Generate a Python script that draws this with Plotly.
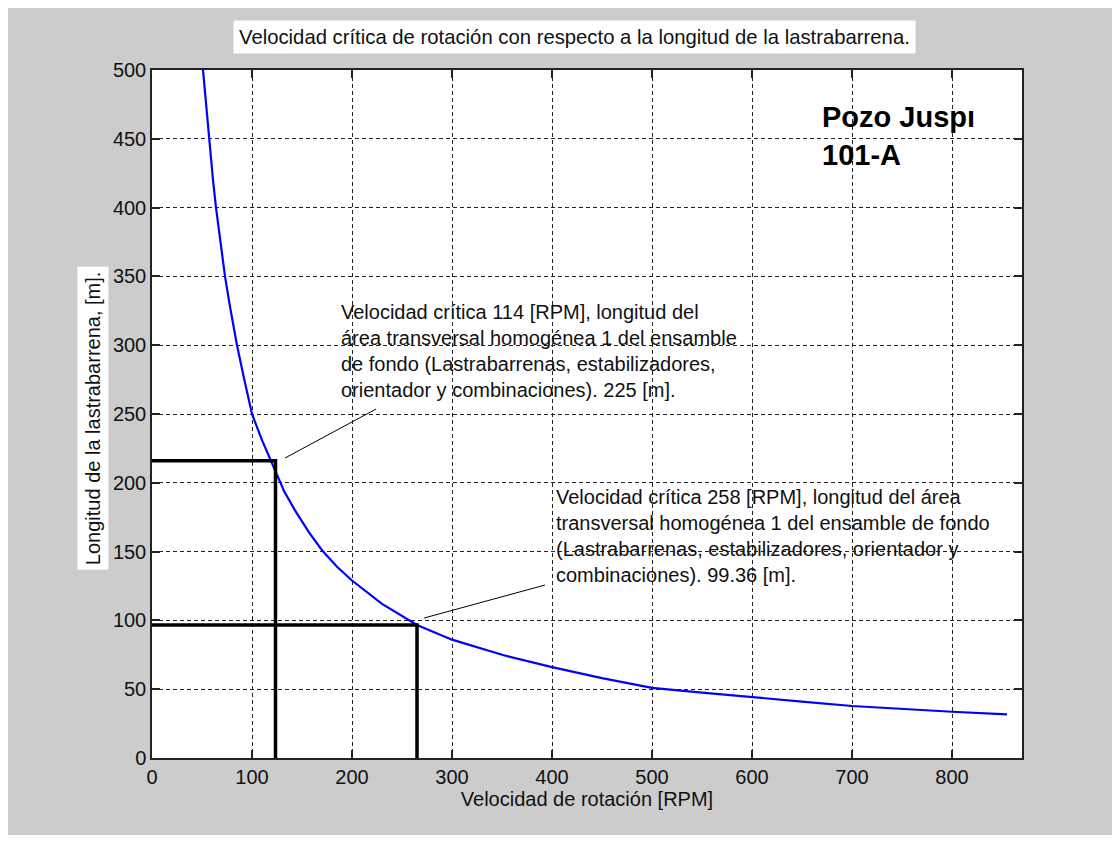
import plotly.graph_objects as go

# Curve
rpm = [51, 54, 57, 61, 64, 68, 73, 78, 85, 92, 100, 110, 120, 132, 143, 157, 170,
       185, 200, 230, 265, 300, 350, 400, 450, 500, 550, 600, 650, 700, 750, 800, 855]
length_m = [500, 475, 450, 420, 400, 377, 350, 328, 300, 276, 250, 231, 214, 194,
            180, 164, 151, 139, 129, 112, 96.7, 86, 75, 66, 58, 51, 47.5, 44, 41,
            37.8, 35.5, 33.6, 31.7]

# Marker lines (critical points)
crit1_x = [0, 123.5, 123.5]
crit1_y = [216, 216, 0]
crit2_x = [0, 265, 265]
crit2_y = [96.7, 96.7, 0]

# Leader lines for the annotations
lead1_x = [133, 224]
lead1_y = [218, 253.6]
lead2_x = [272, 393]
lead2_y = [101.7, 125.7]

x_ticks = [0, 100, 200, 300, 400, 500, 600, 700, 800]
y_ticks = [0, 50, 100, 150, 200, 250, 300, 350, 400, 450, 500]

title_text = "Velocidad crítica de rotación con respecto a la longitud de la lastrabarrena."
xlabel = "Velocidad de rotación [RPM]"
ylabel = "Longitud de la lastrabarrena, [m]."
note1 = ("Velocidad crítica 114 [RPM], longitud del<br>área transversal homogénea 1 del ensamble<br>"
         "de fondo (Lastrabarrenas, estabilizadores,<br>orientador y combinaciones). 225 [m].")
note2 = ("Velocidad crítica 258 [RPM], longitud del área<br>transversal homogénea 1 del ensamble de fondo<br>"
         "(Lastrabarrenas, estabilizadores, orientador y<br>combinaciones). 99.36 [m].")
well = "Pozo Juspı<br>101-A"

FONT = "Arial, 'Liberation Sans', sans-serif"
TXT = "#111111"

fig = go.Figure()
fig.add_trace(go.Scatter(x=rpm, y=length_m, mode="lines",
                         line=dict(color="#0000ff", width=2.2), showlegend=False))
for xs, ys in [(crit1_x, crit1_y), (crit2_x, crit2_y)]:
    fig.add_trace(go.Scatter(x=xs, y=ys, mode="lines",
                             line=dict(color="black", width=3.5), showlegend=False,
                             cliponaxis=False))
for xs, ys in [(lead1_x, lead1_y), (lead2_x, lead2_y)]:
    fig.add_trace(go.Scatter(x=xs, y=ys, mode="lines",
                             line=dict(color="black", width=1), showlegend=False))

axis_common = dict(
    showline=True, linecolor="#222222", linewidth=1.5, mirror="ticks",
    ticks="inside", ticklen=8, tickcolor="#222222", tickwidth=1.5,
    showgrid=True, gridcolor="#222222", gridwidth=1, griddash="4px,3px",
    zeroline=False, tickfont=dict(family=FONT, size=20, color=TXT),
)

fig.update_xaxes(range=[0, 870], tickvals=x_ticks, **axis_common,
                 title=dict(text=xlabel, font=dict(family=FONT, size=20, color=TXT),
                            standoff=4))
fig.update_yaxes(range=[0, 500], tickvals=y_ticks, **axis_common)

fig.add_annotation(text=title_text, xref="paper", yref="paper", x=0.4856, y=1.048,
                   xanchor="center", yanchor="middle",
                   showarrow=False, bgcolor="white", borderpad=5,
                   font=dict(family=FONT, size=20.3, color=TXT))
fig.add_annotation(text=ylabel, xref="paper", yref="paper", x=-0.0678, y=0.494,
                   xanchor="center", yanchor="middle",
                   textangle=-90, showarrow=False, bgcolor="white", borderpad=4,
                   font=dict(family=FONT, size=20, color=TXT))
fig.add_annotation(text=note1, x=187, y=296, xanchor="left", yanchor="middle",
                   align="left", showarrow=False,
                   font=dict(family=FONT, size=20, color=TXT))
fig.add_annotation(text=note2, x=402, y=161.7, xanchor="left", yanchor="middle",
                   align="left", showarrow=False,
                   font=dict(family=FONT, size=20, color=TXT))
fig.add_annotation(text="<b>" + well + "</b>", x=668, y=452, xanchor="left",
                   yanchor="middle", align="left", showarrow=False,
                   font=dict(family=FONT, size=29, color="black"))

fig.update_layout(
    width=1104, height=827,
    margin=dict(l=144, r=90, t=62, b=77),
    paper_bgcolor="#cccccc", plot_bgcolor="white",
    showlegend=False,
)

fig.write_html("out.html")
